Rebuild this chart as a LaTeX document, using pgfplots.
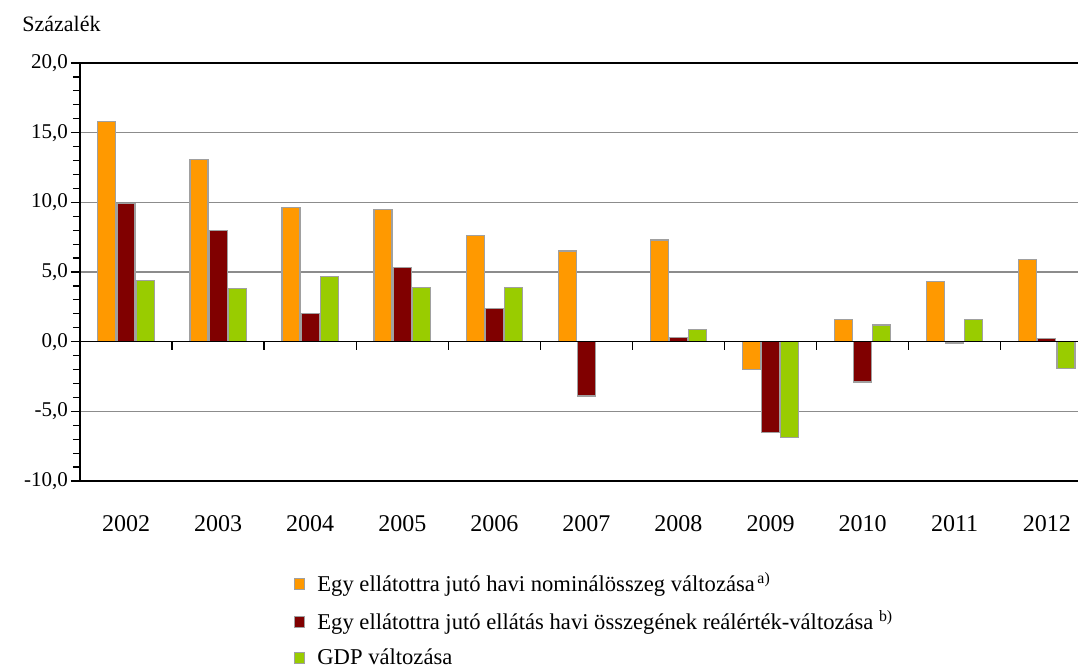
\documentclass[border=0pt]{standalone}
\usepackage{pgfplots}
\pgfplotsset{compat=1.18}
\usepackage{fontspec}
\setmainfont{Liberation Serif}

\definecolor{narancs}{HTML}{FF9900}
\definecolor{bordo}{HTML}{800000}
\definecolor{zold}{HTML}{99CC00}
\definecolor{keret}{HTML}{A0A0A0}
\definecolor{racs}{HTML}{8C8C8C}

\pgfplotsset{
  oszlop/.style={fill=#1, draw=keret, line width=0.6pt,
    legend image code/.code={\draw[fill=#1, draw=keret, line width=0.5pt] (0pt,-2.6pt) rectangle (5.2pt,2.6pt);}},
}

\begin{document}
\begin{tikzpicture}
\useasboundingbox (-40pt,-95.5pt) rectangle (499pt,240.5pt);
\begin{axis}[
  at={(0,0)}, anchor=south west,
  scale only axis, width=506.4pt, height=209pt,
  ybar=0.6pt, bar width=9pt,
  xmin=-0.5, xmax=10.5, ymin=-10, ymax=20,
  xtick={0,...,10},
  xticklabels={2002,2003,2004,2005,2006,2007,2008,2009,2010,2011,2012},
  major x tick style={draw=none},
  xticklabel style={font=\fontsize{12}{14}\selectfont, yshift=-9pt},
  ytick={-10,-5,...,20}, minor y tick num=4,
  yticklabel style={font=\fontsize{10.5}{12}\selectfont, xshift=2pt,
    /pgf/number format/.cd, fixed, fixed zerofill, precision=1, use comma, assume math mode=true},
  ymajorgrids, grid style={racs, line width=0.6pt},
  axis x line*=box, axis y line*=left,
  axis line style={black, line width=1pt},
  tick align=outside,
  y tick style={black, line width=0.6pt},
  major tick length=4.5pt, minor tick length=3.5pt,
  legend style={at={(0.205,-0.2)}, anchor=north west, draw=none, fill=none,
    font=\fontsize{11.3}{13}\selectfont, row sep=4pt,
    /tikz/every odd column/.append style={column sep=4pt}},
  legend cell align=left,
]
\addplot[oszlop=narancs] coordinates {(0,15.8) (1,13.1) (2,9.6) (3,9.5) (4,7.6) (5,6.5) (6,7.3) (7,-2.0) (8,1.6) (9,4.3) (10,5.9)};
\addlegendentry{Egy ellátottra jutó havi nominálösszeg változása\textsuperscript{\,a)}}
\addplot[oszlop=bordo] coordinates {(0,9.9) (1,8.0) (2,2.0) (3,5.3) (4,2.4) (5,-3.9) (6,0.3) (7,-6.5) (8,-2.9) (9,-0.1) (10,0.2)};
\addlegendentry{Egy ellátottra jutó ellátás havi összegének reálérték-változása \textsuperscript{b)}}
\addplot[oszlop=zold] coordinates {(0,4.4) (1,3.8) (2,4.7) (3,3.9) (4,3.9) (6,0.9) (7,-6.9) (8,1.2) (9,1.6) (10,-1.9)};
\addlegendentry{GDP változása}
\draw[black, line width=0.8pt] (axis cs:-0.5,0) -- (axis cs:10.5,0);
\pgfplotsinvokeforeach{0,...,9}{
  \draw[black, line width=0.7pt] (axis cs:#1.5,0) -- ++(0pt,-4pt);
}
\end{axis}
\node[anchor=base west, font=\fontsize{11}{13}\selectfont, inner sep=0pt] at (-29pt,224.5pt) {Százalék};
\end{tikzpicture}
\end{document}
